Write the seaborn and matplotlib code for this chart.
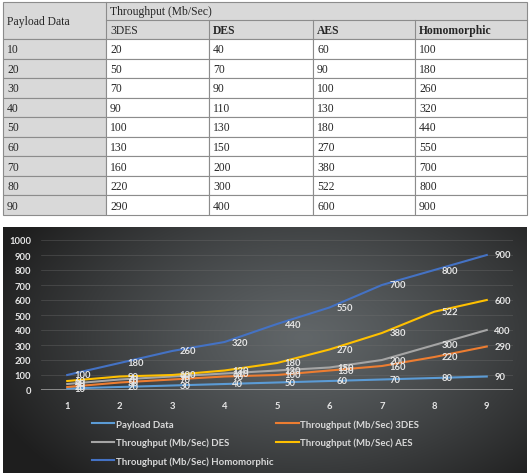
import numpy as np
import pandas as pd
import seaborn as sns
import matplotlib.pyplot as plt
from matplotlib.patches import Rectangle

points = [1, 2, 3, 4, 5, 6, 7, 8, 9]
payload = [10, 20, 30, 40, 50, 60, 70, 80, 90]
tdes = [20, 50, 70, 90, 100, 130, 160, 220, 290]
des = [40, 70, 90, 110, 130, 150, 200, 300, 400]
aes = [60, 90, 100, 130, 180, 270, 380, 522, 600]
homo = [100, 180, 260, 320, 440, 550, 700, 800, 900]

algos = ['3DES', 'DES', 'AES', 'Homomorphic']
algo_bold = [False, True, True, True]
series_names = ['Payload Data',
                'Throughput (Mb/Sec) 3DES',
                'Throughput (Mb/Sec) DES',
                'Throughput (Mb/Sec) AES',
                'Throughput (Mb/Sec) Homomorphic']
colors = ['#5b9bd5', '#ed7d31', '#a5a5a5', '#ffc000', '#4472c4']
yticks = [0, 100, 200, 300, 400, 500, 600, 700, 800, 900, 1000]


def draw_table(ax):
    cols = [3, 106, 209, 313, 415, 527]
    top, mid, hdr = 3, 21, 40
    row_h = (216 - hdr) / len(payload)
    gray = '#d9d9d9'
    line = '#8c8c8c'
    font = dict(family='Liberation Serif', fontsize=8.4, color='#262626', va='center')

    # header cells
    ax.add_patch(Rectangle((cols[0], top), cols[-1] - cols[0], hdr - top,
                           fc=gray, ec=line, lw=0.8))
    ax.plot([cols[1], cols[1]], [top, hdr], color=line, lw=0.8)
    ax.plot([cols[1], cols[-1]], [mid, mid], color=line, lw=0.8)
    for c in cols[2:-1]:
        ax.plot([c, c], [mid, hdr], color=line, lw=0.8)
    ax.text(cols[0] + 4, (top + hdr) / 2, 'Payload Data', **font)
    ax.text(cols[1] + 4, (top + mid) / 2 + 0.5, 'Throughput (Mb/Sec)', **font)
    for i, (name, b) in enumerate(zip(algos, algo_bold)):
        ax.text(cols[i + 1] + 4, (mid + hdr) / 2 + 0.5, name,
                fontweight='bold' if b else 'normal', **font)

    # body rows
    for r, vals in enumerate(zip(payload, tdes, des, aes, homo)):
        y0 = hdr + r * row_h
        for c, v in enumerate(vals):
            ax.add_patch(Rectangle((cols[c], y0), cols[c + 1] - cols[c], row_h,
                                   fc=gray if c == 0 else 'white', ec=line, lw=0.8))
            ax.text(cols[c] + 4, y0 + row_h / 2 + 0.5, str(v), **font)


def draw_background(ax):
    # dark radial gradient behind the chart
    h, w = 246, 524
    yy, xx = np.mgrid[0:h, 0:w]
    d = np.sqrt(((xx - 300) / 330.0) ** 2 + ((yy - 110) / 200.0) ** 2)
    light = np.array([0.38, 0.40, 0.41])
    dark = np.array([0.12, 0.12, 0.12])
    t = np.clip(d, 0, 1)[..., None] ** 1.2
    img = light * (1 - t) + dark * t
    ax.imshow(img, extent=[3, 527, 474, 228], aspect='auto', zorder=0)


def main():
    plt.rcParams['font.family'] = ['Lato', 'DejaVu Sans']

    fig = plt.figure(figsize=(5.29, 4.77), dpi=100)

    base = fig.add_axes([0, 0, 1, 1])
    base.set_xlim(0, 529)
    base.set_ylim(477, 0)
    base.axis('off')
    draw_table(base)
    draw_background(base)

    df = pd.DataFrame({'x': points * 5,
                       'value': payload + tdes + des + aes + homo,
                       'series': [n for n in series_names for _ in points]})

    ax = fig.add_axes([41 / 529, (477 - 391) / 477, 472 / 529, 150 / 477])
    ax.set_facecolor('none')

    sns.lineplot(data=df, x='x', y='value', hue='series',
                 hue_order=series_names,
                 palette=dict(zip(series_names, colors)),
                 linewidth=1.5, ax=ax, legend=False, zorder=3)

    label_color = '#e6e6e6'
    for name, vals in zip(series_names, [payload, tdes, des, aes, homo]):
        for x, v in zip(points, vals):
            ax.annotate(str(v), (x, v), xytext=(5.5, 0), textcoords='offset points',
                        ha='left', va='center', fontsize=6.8, fontweight='bold',
                        color=label_color, zorder=4)

    ax.set_xlim(0.5, 9.5)
    ax.set_ylim(0, 1000)
    ax.set_xticks(points)
    ax.set_yticks(yticks)
    ax.set_xlabel('')
    ax.set_ylabel('')
    for s in ax.spines.values():
        s.set_visible(False)
    ax.tick_params(length=0, colors=label_color, labelsize=6.8)
    ax.tick_params(axis='y', pad=7)
    ax.tick_params(axis='x', pad=8)
    for lab in ax.get_xticklabels() + ax.get_yticklabels():
        lab.set_fontweight('bold')
    ax.grid(axis='y', color='#707070', lw=0.5, alpha=0.5)
    ax.grid(axis='x', visible=False)
    ax.axhline(0, color='#a6a6a6', lw=1.8, zorder=2)

    # legend in row-wise order like the reference
    lines = ax.get_lines()[:5]
    order = [0, 2, 4, 1, 3]
    leg = fig.legend([lines[i] for i in order], [series_names[i] for i in order],
                     loc='upper left', bbox_to_anchor=(92 / 529, 1 - 420 / 477),
                     ncol=2, frameon=False, fontsize=6.9,
                     handlelength=2.3, handletextpad=0.2,
                     columnspacing=0.3, labelspacing=0.95,
                     borderpad=0, borderaxespad=0)
    for t in leg.get_texts():
        t.set_color('#d9d9d9')
        t.set_fontweight('bold')

    fig.savefig('out.png', dpi=100)


if __name__ == '__main__':
    main()
